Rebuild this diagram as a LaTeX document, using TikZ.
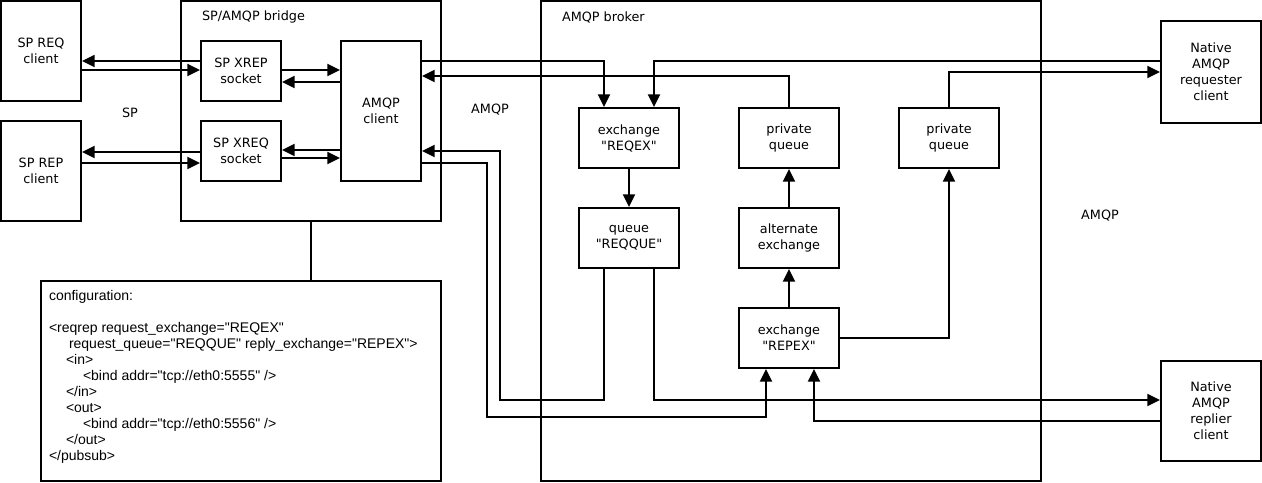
\documentclass[tikz,border=0pt]{standalone}
\usepackage{fontspec}
\newfontfamily\dejavu{DejaVu Sans}
\newfontfamily\libsans{Liberation Sans}
\usetikzlibrary{arrows.meta}
\tikzset{every picture/.style={line width=1.5pt}}

\begin{document}
\begin{tikzpicture}[x=0.75pt,y=0.75pt,yscale=-1,xscale=1,
	box/.style={draw, inner sep=0pt, align=center, font=\dejavu\fontsize{9.6}{12}\selectfont},
	lbl/.style={inner sep=0pt, font=\dejavu\fontsize{9.6}{12}\selectfont},
	arr/.style={-{Triangle[length=9.5pt,width=9pt]}}]
				\useasboundingbox (0,0) rectangle (1262,482);
				%Shape: Rectangle [bridge and broker]
				\node [draw, minimum width=195pt, minimum height=165pt] (bridge) at (311,111) {};
				\node [draw, minimum width=375pt, minimum height=360pt] (broker) at (791,241) {};
				\node [draw, minimum width=300pt, minimum height=150pt] (config) at (241,381) {};
				% Text Node
				\node [lbl, anchor=west] (bridgelbl) at (201,17) {SP/AMQP bridge};
				\node [lbl, anchor=west] (brokerlbl) at (561,17) {AMQP broker};
				\node [lbl] (splbl) at (130,113) {SP};
				\node [lbl] (amqplbl) at (490,110) {AMQP};
				\node [lbl] (amqplbl2) at (1100,216) {AMQP};
				%Shape: Rectangle [SP side]
				\node [box, minimum width=60pt, minimum height=75pt] (reqcli) at (41,51) {SP REQ\\client};
				\node [box, minimum width=60pt, minimum height=75pt] (repcli) at (41,171) {SP REP\\client};
				\node [box, minimum width=60pt, minimum height=45pt] (xrep) at (241,71) {SP XREP\\socket};
				\node [box, minimum width=60pt, minimum height=45pt] (xreq) at (241,151) {SP XREQ\\socket};
				\node [box, minimum width=60pt, minimum height=105pt] (amqpcli) at (381,111) {AMQP\\client};
				%Shape: Rectangle [broker side]
				\node [box, minimum width=75pt, minimum height=45pt] (reqex) at (629,138) {exchange\\"REQEX"};
				\node [box, minimum width=75pt, minimum height=45pt] (privq) at (789,138) {private\\queue};
				\node [box, minimum width=75pt, minimum height=45pt] (privq2) at (949,138) {private\\queue};
				\node [box, minimum width=75pt, minimum height=45pt] (reqque) at (629,238) {queue\\"REQQUE"};
				\node [box, minimum width=75pt, minimum height=45pt] (altex) at (789,238) {alternate\\exchange};
				\node [box, minimum width=75pt, minimum height=45pt] (repex) at (789,338) {exchange\\"REPEX"};
				\node [box, minimum width=75pt, minimum height=76.5pt] (requester) at (1211,72) {Native\\AMQP\\requester\\client};
				\node [box, minimum width=75pt, minimum height=75pt] (replier) at (1211,411) {Native\\AMQP\\replier\\client};
				% Text Node [configuration]
				\node [anchor=north west, inner sep=0pt, align=left, font=\libsans\fontsize{10.5}{12}\selectfont] (conftext) at (48,289) {configuration:\\
					\mbox{}\\
					<reqrep request\_exchange="REQEX"\\
					\hspace*{15pt}request\_queue="REQQUE" reply\_exchange="REPEX">\\
					\hspace*{12.75pt}<in>\\
					\hspace*{25.5pt}<bind addr="tcp://eth0:5555" />\\
					\hspace*{12.75pt}</in>\\
					\hspace*{12.75pt}<out>\\
					\hspace*{25.5pt}<bind addr="tcp://eth0:5556" />\\
					\hspace*{12.75pt}</out>\\
					</pubsub>};
				%Straight Lines [SP]
				\draw [arr] (xrep.west |- 0,61) -- (reqcli.east |- 0,61);
				\draw [arr] (reqcli.east |- 0,70) -- (xrep.west |- 0,70);
				\draw [arr] (xrep.east |- 0,70) -- (amqpcli.west |- 0,70);
				\draw [arr] (amqpcli.west |- 0,82) -- (xrep.east |- 0,82);
				\draw [arr] (xreq.west |- 0,152) -- (repcli.east |- 0,152);
				\draw [arr] (repcli.east |- 0,163) -- (xreq.west |- 0,163);
				\draw [arr] (amqpcli.west |- 0,150) -- (xreq.east |- 0,150);
				\draw [arr] (xreq.east |- 0,158) -- (amqpcli.west |- 0,158);
				\draw (bridge.south) -- (bridge.south |- config.north);
				%Straight Lines [AMQP]
				\draw [arr] (amqpcli.east |- 0,61) -| (reqex.north -| 604,0);
				\draw [arr] (requester.west |- 0,61) -| (reqex.north -| 654,0);
				\draw [arr] (privq.north) |- (amqpcli.east |- 0,76);
				\draw [arr] (reqque.south -| 604,0) |- (500,400) |- (amqpcli.east |- 0,151);
				\draw [arr] (amqpcli.east |- 0,163) -| (487,417) -| (repex.south -| 766,0);
				\draw [arr] (reqque.south -| 654,0) |- (replier.west |- 0,400);
				\draw [arr] (replier.west |- 0,421) -| (repex.south -| 814,0);
				\draw [arr] (reqex) -- (reqque);
				\draw [arr] (repex) -- (altex);
				\draw [arr] (altex) -- (privq);
				\draw [arr] (repex.east) -| (privq2.south);
				\draw [arr] (privq2.north) |- (requester.west |- 0,72);
\end{tikzpicture}
\end{document}
